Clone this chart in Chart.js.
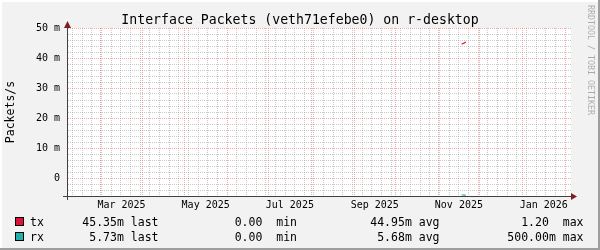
<!DOCTYPE html>
<html>
<head>
<meta charset="utf-8">
<script src="https://cdn.jsdelivr.net/npm/chart.js@4.4.1/dist/chart.umd.min.js"></script>
<style>
  html, body { margin: 0; padding: 0; background: #f2f2f2; }
  canvas { display: block; }
</style>
</head>
<body>
<canvas id="packetsChart" width="600" height="250"></canvas>
<script>
// Values (packets/s)
const sampleDates = ['2025-11-18', '2025-11-19', '2025-11-20', '2025-11-21'];
const txValues = [0.04455, 0.04485, 0.04505, 0.04535];
const rxValues = [0.00563, 0.00566, 0.00570, 0.00573]; // rx is drawn below zero

// Legend rows
const seriesNames = ['tx', 'rx'];
const seriesColors = ['#DC143C', '#20B2AA'];
const lastVals = ['45.35m', '5.73m'];
const minVals = ['0.00 ', '0.00 '];
const avgVals = ['44.95m', '5.68m'];
const maxVals = ['1.20 ', '500.00m'];

// Axis ticks
const xLabelMonths = ['2025-03-01', '2025-05-01', '2025-07-01', '2025-09-01', '2025-11-01', '2026-01-01'];
const xTickLabels = ['Mar 2025', 'May 2025', 'Jul 2025', 'Sep 2025', 'Nov 2025', 'Jan 2026'];
const yTickValues = [0, 0.01, 0.02, 0.03, 0.04, 0.05];
const yTickLabels = ['0', '10 m', '20 m', '30 m', '40 m', '50 m'];

const xStart = Date.UTC(2025, 1, 5, 0);
const xEnd = Date.UTC(2026, 1, 5, 6);
const yMin = -0.006;
const yMax = 0.05;

const DAY = 86400000;
const MONO = '"DejaVu Sans Mono", monospace';
const gridMinor = 'rgba(150,150,150,0.5)';
const gridMajor = 'rgba(230,90,90,0.5)';

// month lines (major), weekly lines (minor), mid-month label positions
const monthTicks = [];
for (let m = 0; m < 14; m++) {
    const t = Date.UTC(2025, m, 1);
    if (t > xStart && t < xEnd) monthTicks.push(t);
}
const weekTicks = [];
for (let t = Date.UTC(2025, 1, 9); t < xEnd; t += 7 * DAY) {
    if (!monthTicks.includes(t)) weekTicks.push(t);
}
const labelTicks = xLabelMonths.map(d => {
    const a = new Date(d + 'T00:00:00Z');
    const b = Date.UTC(a.getUTCFullYear(), a.getUTCMonth() + 1, 1);
    return (a.getTime() + b) / 2;
});

const yMinorTicks = [];
for (let i = -2; i <= 24; i++) {
    if (i % 5 !== 0) yMinorTicks.push(i * 0.002);
}

// Background, frame, white plot area and dotted rrd grid
const rrdPlugin = {
    id: 'rrdLook',
    beforeDraw(chart) {
        const { ctx, chartArea: a, width, height } = chart;
        ctx.save();
        ctx.fillStyle = '#f2f2f2';
        ctx.fillRect(0, 0, width, height);
        ctx.fillStyle = '#ffffff';
        ctx.fillRect(0, 0, width, 2);
        ctx.fillRect(0, 0, 2, height);
        ctx.fillStyle = '#9e9e9e';
        ctx.fillRect(0, height - 2, width, 2);
        ctx.fillRect(width - 2, 0, 2, height);
        ctx.fillStyle = '#ffffff';
        ctx.fillRect(a.left, a.top, a.right - a.left, a.bottom - a.top);
        ctx.restore();
    },
    beforeDatasetsDraw(chart) {
        const { ctx, chartArea: a, scales } = chart;
        const top = Math.round(a.top), bottom = Math.round(a.bottom);
        const left = Math.round(a.left), right = Math.round(a.right);
        // dotted lines: one pixel on, one pixel off
        const vline = (v, color) => {
            const px = Math.round(scales.x.getPixelForValue(v) - 0.5);
            ctx.fillStyle = color;
            for (let py = top; py < bottom; py += 2) ctx.fillRect(px, py, 1, 1);
        };
        const hline = (v, color) => {
            const py = Math.round(scales.y.getPixelForValue(v) - 0.5);
            ctx.fillStyle = color;
            for (let px = left + 1; px < right; px += 2) ctx.fillRect(px, py, 1, 1);
        };
        ctx.save();
        weekTicks.forEach(v => vline(v, gridMinor));
        yMinorTicks.forEach(v => hline(v, gridMinor));
        monthTicks.forEach(v => vline(v, gridMajor));
        yTickValues.forEach(v => hline(v, gridMajor));
        ctx.restore();
    },
    afterDraw(chart) {
        const { ctx, chartArea: a, width } = chart;
        ctx.save();

        // axes
        const x0 = Math.round(a.left) + 0.5;
        const yb = Math.round(a.bottom) + 0.5;
        ctx.strokeStyle = '#404040';
        ctx.lineWidth = 1;
        ctx.beginPath();
        ctx.moveTo(a.left - 4, yb);
        ctx.lineTo(a.right + 1, yb);
        ctx.moveTo(x0, a.bottom + 4);
        ctx.lineTo(x0, a.top - 1);
        ctx.stroke();

        // arrows
        ctx.fillStyle = '#801f1f';
        ctx.beginPath();
        ctx.moveTo(a.right, yb - 3.5);
        ctx.lineTo(a.right + 6, yb);
        ctx.lineTo(a.right, yb + 3.5);
        ctx.closePath();
        ctx.fill();
        ctx.beginPath();
        ctx.moveTo(x0 - 3.5, a.top);
        ctx.lineTo(x0, a.top - 7);
        ctx.lineTo(x0 + 3.5, a.top);
        ctx.closePath();
        ctx.fill();

        // title
        ctx.fillStyle = '#000';
        ctx.font = '13.2px ' + MONO;
        ctx.textAlign = 'center';
        ctx.textBaseline = 'alphabetic';
        ctx.fillText('Interface Packets (veth71efebe0) on r-desktop', width / 2, 24);

        // legend
        ctx.font = '11.5px ' + MONO;
        seriesNames.forEach((name, i) => {
            const base = 226 + i * 15;
            ctx.fillStyle = seriesColors[i];
            ctx.fillRect(15, base - 9, 9, 9);
            ctx.strokeStyle = '#000';
            ctx.strokeRect(15.5, base - 8.5, 8, 8);
            ctx.fillStyle = '#000';
            ctx.textAlign = 'left';
            ctx.fillText(name, 30, base);
            ctx.textAlign = 'right';
            ctx.fillText(lastVals[i] + ' last', 158.5, base);
            ctx.fillText(minVals[i] + ' min', 297, base);
            ctx.fillText(avgVals[i] + ' avg', 439.5, base);
            ctx.fillText(maxVals[i] + ' max', 583.5, base);
        });

        // watermark
        ctx.translate(590, 5);
        ctx.rotate(Math.PI / 2);
        ctx.font = '8.3px ' + MONO;
        ctx.fillStyle = 'rgba(0,0,0,0.3)';
        ctx.textAlign = 'left';
        ctx.textBaseline = 'middle';
        ctx.fillText('RRDTOOL / TOBI OETIKER', 0, 0);
        ctx.restore();
    }
};

const ctx = document.getElementById('packetsChart').getContext('2d');
const packetsChart = new Chart(ctx, {
    type: 'line',
    data: {
        datasets: [{
            label: 'tx',
            data: sampleDates.map((d, i) => ({ x: Date.parse(d), y: txValues[i] })),
            borderColor: seriesColors[0],
            borderWidth: 1.2,
            pointRadius: 0,
            tension: 0
        }, {
            label: 'rx',
            data: sampleDates.map((d, i) => ({ x: Date.parse(d), y: -rxValues[i] })),
            borderColor: seriesColors[1],
            borderWidth: 1.2,
            pointRadius: 0,
            tension: 0
        }]
    },
    options: {
        responsive: false,
        animation: false,
        devicePixelRatio: 1,
        events: [],
        layout: { padding: { top: 28, right: 29, bottom: 0, left: 0 } },
        plugins: {
            legend: { display: false },
            title: { display: false },
            tooltip: { enabled: false }
        },
        scales: {
            x: {
                type: 'linear',
                min: xStart,
                max: xEnd,
                afterBuildTicks: (scale) => {
                    scale.ticks = labelTicks.map(v => ({ value: v }));
                },
                afterFit: (scale) => { scale.height = 54; },
                grid: { display: false, drawTicks: false },
                border: { display: false },
                ticks: {
                    autoSkip: false,
                    maxRotation: 0,
                    minRotation: 0,
                    padding: 3,
                    color: '#000',
                    font: { family: MONO, size: 10 },
                    callback: (value) => {
                        const i = labelTicks.indexOf(value);
                        return i >= 0 ? xTickLabels[i] : '';
                    }
                }
            },
            y: {
                type: 'linear',
                min: yMin,
                max: yMax,
                afterBuildTicks: (scale) => {
                    scale.ticks = yTickValues.map(v => ({ value: v }));
                },
                afterFit: (scale) => { scale.width = 67; },
                grid: { display: false, drawTicks: false },
                border: { display: false },
                title: {
                    display: true,
                    text: 'Packets/s',
                    color: '#000',
                    font: { family: MONO, size: 11.5 },
                    padding: { top: 4, bottom: 0 }
                },
                ticks: {
                    autoSkip: false,
                    padding: 7,
                    color: '#000',
                    font: { family: MONO, size: 10 },
                    callback: (value) => {
                        const i = yTickValues.findIndex(t => Math.abs(t - value) < 1e-9);
                        return i >= 0 ? yTickLabels[i] : '';
                    }
                }
            }
        }
    },
    plugins: [rrdPlugin]
});
</script>
</body>
</html>
